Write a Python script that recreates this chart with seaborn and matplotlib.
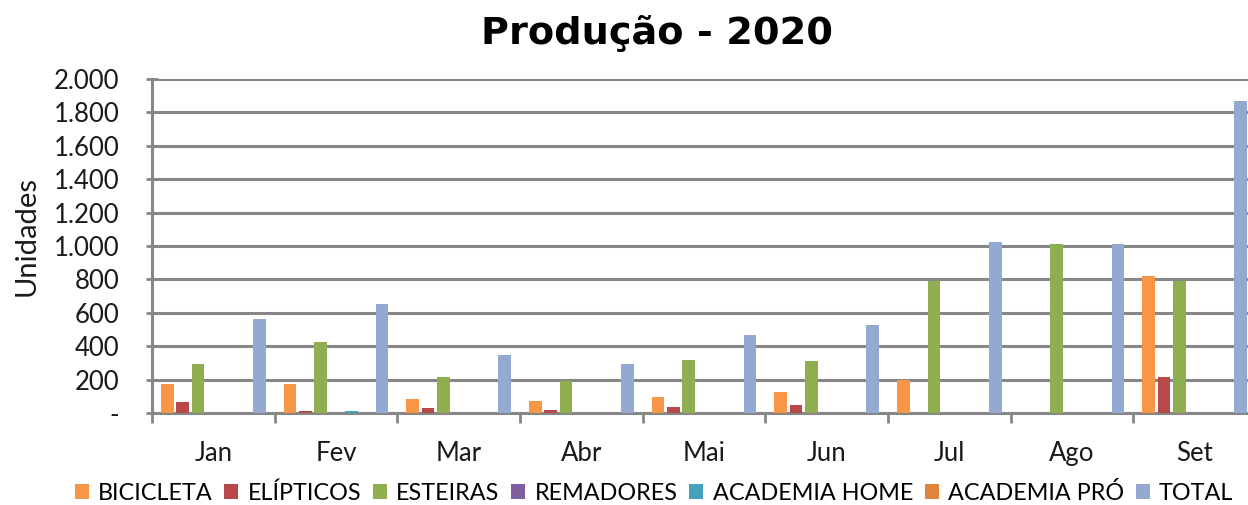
import numpy as np
import pandas as pd
import matplotlib
matplotlib.use('Agg')
import matplotlib.pyplot as plt
import seaborn as sns
from matplotlib.ticker import FuncFormatter, FixedLocator, MultipleLocator

# ==========================================
# DADOS
# ==========================================
meses = ["Jan", "Fev", "Mar", "Abr", "Mai", "Jun", "Jul", "Ago", "Set"]
series = ["BICICLETA", "ELÍPTICOS", "ESTEIRAS", "REMADORES",
          "ACADEMIA HOME", "ACADEMIA PRÓ", "TOTAL"]

bicicleta = [174, 174, 82, 72, 98, 128, 197, 0, 820]
elipticos = [64, 12, 28, 18, 36, 50, 0, 0, 216]
esteiras = [293, 427, 218, 192, 319, 309, 790, 1010, 790]
remadores = [0, 0, 0, 0, 0, 0, 0, 0, 0]
academia_home = [0, 12, 0, 0, 0, 0, 0, 0, 0]
academia_pro = [0, 0, 0, 0, 0, 0, 0, 0, 0]
total = [565, 655, 349, 295, 465, 529, 1024, 1010, 1866]

cores = ["#F79646", "#B8484A", "#8FAE4F", "#7E60A0", "#45A3BC", "#E0843C", "#93A9D1"]

valores = [bicicleta, elipticos, esteiras, remadores, academia_home, academia_pro, total]
df = pd.DataFrame([
    {"Mes": m, "Serie": s, "Unidades": v[i]}
    for s, v in zip(series, valores) for i, m in enumerate(meses)
])

# ==========================================
# GRAFICO
# ==========================================
FONTE = "Lato"
W, H = 1248, 505
fig = plt.figure(figsize=(W / 100, H / 100), dpi=100)
ax = fig.add_axes([152 / W, (H - 413) / H, 1104 / W, 334 / H])

sns.barplot(data=df, x="Mes", y="Unidades", hue="Serie", hue_order=series,
            palette=cores, width=0.875, gap=0.18, saturation=1,
            edgecolor="none", ax=ax, zorder=3)

ax.set_xlim(-0.5, len(meses) - 0.5)
ax.set_ylim(0, 2000)
ax.yaxis.set_major_locator(MultipleLocator(200))
ax.yaxis.set_major_formatter(FuncFormatter(
    lambda v, p: "-" if v == 0 else f"{int(v):,}".replace(",", ".")))

cinza = "#878787"
ax.grid(axis="y", color=cinza, linewidth=2.2, zorder=0)
ax.grid(axis="x", visible=False)
ax.set_axisbelow(True)
for lado in ["top", "right"]:
    ax.spines[lado].set_visible(False)
for lado in ["left", "bottom"]:
    ax.spines[lado].set_color(cinza)
    ax.spines[lado].set_linewidth(2.2)

# marcas entre categorias no eixo x
ax.xaxis.set_minor_locator(FixedLocator(np.arange(-0.5, len(meses), 1.0)))
ax.tick_params(axis="x", which="major", length=0, pad=20, labelsize=18.5)
ax.tick_params(axis="x", which="minor", length=7, width=2, color=cinza, direction="out")
ax.tick_params(axis="y", length=9, width=2, color=cinza, direction="inout",
               pad=19, labelsize=18.5)
for lbl in ax.get_xticklabels() + ax.get_yticklabels():
    lbl.set_fontfamily(FONTE)
    lbl.set_color("#1a1a1a")

ax.set_xlabel("")
ax.set_ylabel("")
fig.text(27 / W, 1 - 236 / H, "Unidades", rotation=90, ha="center", va="center",
         fontsize=21, family=FONTE, color="#1a1a1a")
fig.text(657 / W, 1 - 33 / H, "Produção - 2020", ha="center", va="center",
         fontsize=27.5, fontweight="bold", family="DejaVu Sans")

handles, labels = ax.get_legend_handles_labels()
ax.get_legend().remove()
fig.legend(handles, labels, loc="center", bbox_to_anchor=(654 / W, 1 - 493 / H),
           ncol=7, frameon=False, handlelength=0.6, handleheight=0.6,
           handletextpad=0.4, columnspacing=0.5,
           prop={"family": FONTE, "size": 16.8})

fig.savefig("out.png", dpi=100)
